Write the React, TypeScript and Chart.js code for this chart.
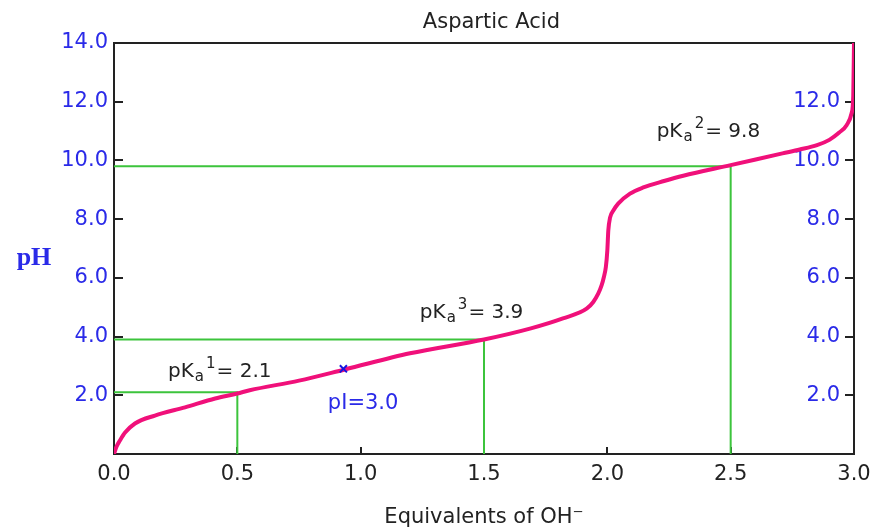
import React, { useEffect, useRef } from 'react';
import { Chart, registerables } from 'chart.js';

Chart.register(...registerables);

// Titration curve (equivalents of OH- vs pH)
const curveEquivalents = [0, 0.01, 0.024, 0.045, 0.085, 0.166, 0.288, 0.41, 0.5, 0.55, 0.75, 0.936, 1.2, 1.5, 1.69, 1.82, 1.916, 1.943, 1.963, 1.977, 1.986, 1.994, 2.0, 2.004, 2.011, 2.025, 2.044, 2.092, 2.146, 2.23, 2.308, 2.5, 2.71, 2.78, 2.85, 2.9, 2.94, 2.97, 2.99, 2.997, 3.0];
const curvePH = [0, 0.25, 0.46, 0.73, 1.04, 1.31, 1.59, 1.89, 2.06, 2.17, 2.5, 2.88, 3.43, 3.9, 4.28, 4.62, 4.95, 5.18, 5.46, 5.75, 6.03, 6.37, 6.94, 7.62, 8.05, 8.3, 8.53, 8.87, 9.08, 9.3, 9.48, 9.84, 10.24, 10.37, 10.52, 10.7, 10.95, 11.2, 11.6, 12.2, 14.0];

// pKa guide lines
const pKaEquivalents = [0.5, 1.5, 2.5];
const pKaValues = [2.1, 3.9, 9.8];
const pKaIndices = ['1', '3', '2'];

// isoelectric point marker
const pIEquivalent = 0.93;
const pIMarkerPH = 2.9;
const pIValue = 3.0;

// ticks
const xTickValues = [0.5, 1.0, 1.5, 2.0, 2.5];
const yTickValues = [2, 4, 6, 8, 10, 12];

const TITLE = 'Aspartic Acid';
const X_TITLE = 'Equivalents of OH\u207B';
const Y_TITLE = 'pH';

const BLUE = '#2a2ae8';
const TEXT = '#222222';
const FONT = '"DejaVu Sans", sans-serif';

const framePlugin = {
  id: 'frame',
  beforeDatasetsDraw(chart: any) {
    const { ctx, chartArea: a, scales } = chart;
    ctx.save();
    ctx.strokeStyle = '#222';
    ctx.lineWidth = 2;
    ctx.strokeRect(a.left, a.top, a.right - a.left, a.bottom - a.top);
    ctx.beginPath();
    for (const v of xTickValues) {
      const px = Math.round(scales.x.getPixelForValue(v));
      ctx.moveTo(px, a.bottom);
      ctx.lineTo(px, a.bottom - 7);
    }
    for (const v of yTickValues) {
      const py = Math.round(scales.y.getPixelForValue(v));
      ctx.moveTo(a.left, py);
      ctx.lineTo(a.left + 9, py);
      ctx.moveTo(a.right, py);
      ctx.lineTo(a.right - 9, py);
    }
    ctx.stroke();
    ctx.restore();
  },
};

function drawPKa(ctx: CanvasRenderingContext2D, x: number, y: number, idx: string, value: number) {
  ctx.fillStyle = TEXT;
  ctx.textAlign = 'left';
  ctx.textBaseline = 'alphabetic';
  ctx.font = `20px ${FONT}`;
  ctx.fillText('pK', x, y);
  let cx = x + ctx.measureText('pK').width + 1;
  ctx.font = `15px ${FONT}`;
  ctx.fillText('a', cx, y + 4);
  cx += ctx.measureText('a').width + 2;
  ctx.fillText(idx, cx, y - 9);
  cx += ctx.measureText(idx).width + 1;
  ctx.font = `20px ${FONT}`;
  ctx.fillText('= ' + value.toFixed(1), cx, y);
}

const textPlugin = {
  id: 'texts',
  afterDraw(chart: any) {
    const { ctx, scales } = chart;
    const X = (v: number) => scales.x.getPixelForValue(v);
    const Y = (v: number) => scales.y.getPixelForValue(v);
    ctx.save();
    // title
    ctx.fillStyle = TEXT;
    ctx.font = `21px ${FONT}`;
    ctx.textAlign = 'center';
    ctx.textBaseline = 'alphabetic';
    ctx.fillText(TITLE, X(1.53), 28);
    // y title
    ctx.fillStyle = BLUE;
    ctx.font = 'bold 26px "Liberation Serif", serif';
    ctx.fillText(Y_TITLE, 34, 265);
    // pKa labels
    const anchors = [
      [0.219, 2.61],
      [1.24, 4.64],
      [2.2, 10.8],
    ];
    pKaValues.forEach((v, i) => drawPKa(ctx, X(anchors[i][0]), Y(anchors[i][1]), pKaIndices[i], v));
    // pI label
    ctx.fillStyle = BLUE;
    ctx.font = `21px ${FONT}`;
    ctx.textAlign = 'left';
    ctx.fillText('pI=' + pIValue.toFixed(1), X(0.867), Y(1.52));
    ctx.restore();
  },
};

export default function App() {
  const ref = useRef<HTMLCanvasElement>(null);
  useEffect(() => {
    if (!ref.current) return;
    const guideSets = pKaEquivalents.map((eq, i) => ({
      type: 'line' as const,
      data: [
        { x: 0, y: pKaValues[i] },
        { x: eq, y: pKaValues[i] },
        { x: eq, y: 0 },
      ],
      borderColor: '#3cc43c',
      borderWidth: 2,
      pointRadius: 0,
      tension: 0,
      order: 3,
    }));
    const chart = new Chart(ref.current, {
      type: 'line',
      data: {
        datasets: [
          {
            data: [{ x: pIEquivalent, y: pIMarkerPH }],
            showLine: false,
            pointStyle: 'crossRot',
            pointRadius: 5,
            borderColor: '#1515e0',
            borderWidth: 2,
            order: 0,
          } as any,
          {
            data: curveEquivalents.map((x, i) => ({ x, y: curvePH[i] })),
            borderColor: '#f0107a',
            borderWidth: 4,
            pointRadius: 0,
            cubicInterpolationMode: 'monotone',
            order: 1,
          },
          ...guideSets,
        ],
      },
      options: {
        animation: false,
        responsive: false,
        events: [],
        layout: { padding: { top: 43, left: 0, right: 0, bottom: 0 } },
        plugins: { legend: { display: false }, tooltip: { enabled: false }, title: { display: false } },
        scales: {
          x: {
            type: 'linear',
            min: 0,
            max: 3,
            grid: { display: false, drawTicks: false },
            border: { display: false },
            ticks: {
              stepSize: 0.5,
              padding: 8,
              color: TEXT,
              font: { family: FONT, size: 21 },
              callback: (v: any) => Number(v).toFixed(1),
              maxRotation: 0,
            },
            title: {
              display: true,
              text: X_TITLE,
              color: TEXT,
              font: { family: FONT, size: 21 },
              padding: { top: 0, bottom: 0 },
            },
            afterFit: (s: any) => {
              s.height = 76;
              s.paddingLeft = 0;
              s.paddingRight = 0;
            },
          },
          y: {
            type: 'linear',
            position: 'left',
            min: 0,
            max: 14,
            grid: { display: false, drawTicks: false },
            border: { display: false },
            ticks: {
              stepSize: 2,
              padding: 6,
              color: BLUE,
              font: { family: FONT, size: 21 },
              callback: (v: any) => (Number(v) === 0 ? '' : Number(v).toFixed(1)),
            },
            afterFit: (s: any) => {
              s.width = 114;
              s.paddingTop = 0;
              s.paddingBottom = 0;
            },
          },
          y2: {
            type: 'linear',
            position: 'right',
            min: 0,
            max: 14,
            grid: { display: false, drawTicks: false },
            border: { display: false },
            ticks: {
              stepSize: 2,
              mirror: true,
              padding: -14,
              color: BLUE,
              font: { family: FONT, size: 21 },
              callback: (v: any) => (Number(v) === 0 || Number(v) === 14 ? '' : Number(v).toFixed(1)),
            },
            afterFit: (s: any) => {
              s.width = 17;
              s.paddingTop = 0;
              s.paddingBottom = 0;
            },
          },
        },
      } as any,
      plugins: [framePlugin, textPlugin],
    });
    return () => chart.destroy();
  }, []);
  return (
    <div style={{ position: 'fixed', left: 0, top: 0, width: 871, height: 530, background: '#fff' }}>
      <canvas ref={ref} width={871} height={530} style={{ display: 'block' }} />
    </div>
  );
}
